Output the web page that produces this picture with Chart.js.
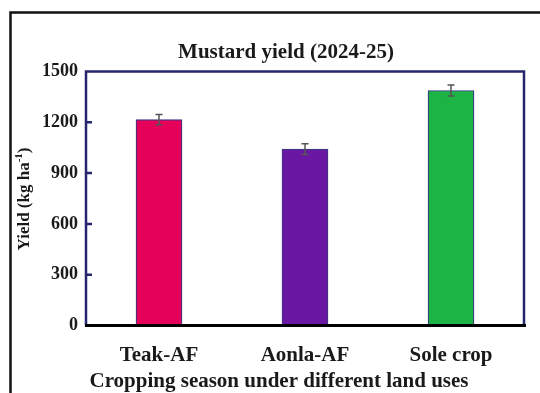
<!DOCTYPE html>
<html>
<head>
<meta charset="utf-8">
<script src="https://cdn.jsdelivr.net/npm/chart.js@4/dist/chart.umd.min.js"></script>
<style>
  html, body { margin: 0; padding: 0; background: #fff; overflow: hidden; }
  #wrap { position: relative; width: 540px; height: 393px; }
</style>
</head>
<body>
<div id="wrap"><canvas id="chart" width="540" height="393"></canvas></div>
<script>
// Mustard yield by land use, mean with error (kg/ha)
const categories = ['Teak-AF', 'Aonla-AF', 'Sole crop'];
const yieldMean = [1216, 1042, 1388];
const yieldError = [30, 32, 33];
const barColors = ['#e5005a', '#6a17a3', '#1db446'];
const yTicks = [0, 300, 600, 900, 1200, 1500];
const chartTitle = 'Mustard yield (2024-25)';
const xTitle = 'Cropping season under different land uses';

const SERIF = '"Liberation Serif", "Times New Roman", serif';
const NAVY = '#26266e';
const INK = '#1a1a1a';

// Outer frame, plot border, inner ticks, titles
const framePlugin = {
  id: 'frame',
  beforeDraw(chart) {
    const ctx = chart.ctx;
    ctx.save();
    ctx.fillStyle = '#fff';
    ctx.fillRect(0, 0, chart.width, chart.height);
    ctx.strokeStyle = '#111';
    ctx.lineWidth = 2.5;
    ctx.beginPath();
    ctx.moveTo(10.5, chart.height + 2);
    ctx.lineTo(10.5, 12.5);
    ctx.lineTo(chart.width + 2, 12.5);
    ctx.stroke();
    ctx.restore();
  },
  afterDraw(chart) {
    const ctx = chart.ctx;
    const a = chart.chartArea;
    const y = chart.scales.y;
    ctx.save();
    ctx.strokeStyle = NAVY;
    ctx.lineWidth = 2.5;
    ctx.beginPath();
    ctx.moveTo(a.left, a.bottom);
    ctx.lineTo(a.left, a.top);
    ctx.lineTo(a.right, a.top);
    ctx.lineTo(a.right, a.bottom);
    ctx.stroke();
    // inner tick marks
    ctx.beginPath();
    y.ticks.forEach(t => {
      if (t.value <= 0 || t.value >= 1500) return;
      const py = y.getPixelForValue(t.value);
      ctx.moveTo(a.left, py);
      ctx.lineTo(a.left + 6, py);
    });
    ctx.stroke();
    // baseline
    ctx.strokeStyle = '#000';
    ctx.lineWidth = 3;
    ctx.beginPath();
    ctx.moveTo(a.left - 1, a.bottom);
    ctx.lineTo(a.right + 2, a.bottom);
    ctx.stroke();

    // chart title and x axis title
    ctx.fillStyle = INK;
    ctx.textAlign = 'center';
    ctx.textBaseline = 'middle';
    ctx.font = 'bold 21px ' + SERIF;
    ctx.fillText(chartTitle, 286, 53);
    ctx.fillText(xTitle, 279, 382);

    // y axis title with superscript
    ctx.translate(25, 199);
    ctx.rotate(-Math.PI / 2);
    const main = 'bold 17px ' + SERIF;
    const sup = 'bold 11px ' + SERIF;
    const parts = [['Yield (kg ha', main, 0], ['-1', sup, -6], [')', main, 0]];
    let total = 0;
    parts.forEach(p => { ctx.font = p[1]; total += ctx.measureText(p[0]).width; });
    let x = -total / 2;
    ctx.textAlign = 'left';
    parts.forEach(p => {
      ctx.font = p[1];
      ctx.fillText(p[0], x, p[2]);
      x += ctx.measureText(p[0]).width;
    });
    ctx.restore();
  }
};

// Error bars drawn from the y scale
const errorBarPlugin = {
  id: 'errorBars',
  afterDatasetsDraw(chart) {
    const ctx = chart.ctx;
    const meta = chart.getDatasetMeta(0);
    const y = chart.scales.y;
    ctx.save();
    ctx.strokeStyle = '#555';
    ctx.lineWidth = 1.5;
    meta.data.forEach((bar, i) => {
      const top = y.getPixelForValue(yieldMean[i] + yieldError[i]);
      const bot = y.getPixelForValue(yieldMean[i] - yieldError[i]);
      ctx.beginPath();
      ctx.moveTo(bar.x, top);
      ctx.lineTo(bar.x, bot);
      ctx.moveTo(bar.x - 3.5, top);
      ctx.lineTo(bar.x + 3.5, top);
      ctx.moveTo(bar.x - 3.5, bot);
      ctx.lineTo(bar.x + 3.5, bot);
      ctx.stroke();
    });
    ctx.restore();
  }
};

new Chart(document.getElementById('chart'), {
  type: 'bar',
  data: {
    labels: categories,
    datasets: [{
      data: yieldMean,
      backgroundColor: barColors,
      borderColor: '#3b3585',
      borderWidth: 1.2,
      barThickness: 46
    }]
  },
  options: {
    responsive: false,
    animation: false,
    layout: { padding: { left: 0, right: 16, top: 71.5, bottom: 0 } },
    plugins: {
      legend: { display: false },
      tooltip: { enabled: false },
      title: { display: false }
    },
    scales: {
      x: {
        grid: { display: false, drawTicks: false },
        border: { display: false },
        ticks: {
          color: INK,
          font: { family: SERIF, size: 21, weight: 'bold' },
          padding: 17,
          maxRotation: 0
        },
        afterFit(scale) { scale.height = 67.5; }
      },
      y: {
        min: 0,
        max: 1500,
        afterBuildTicks(scale) { scale.ticks = yTicks.map(v => ({ value: v })); },
        grid: { display: false, drawTicks: false },
        border: { display: false },
        ticks: {
          color: INK,
          font: { family: SERIF, size: 18, weight: 'bold' },
          padding: 8,
          callback: v => String(v)
        },
        afterFit(scale) { scale.width = 86; }
      }
    }
  },
  plugins: [framePlugin, errorBarPlugin]
});
</script>
</body>
</html>
